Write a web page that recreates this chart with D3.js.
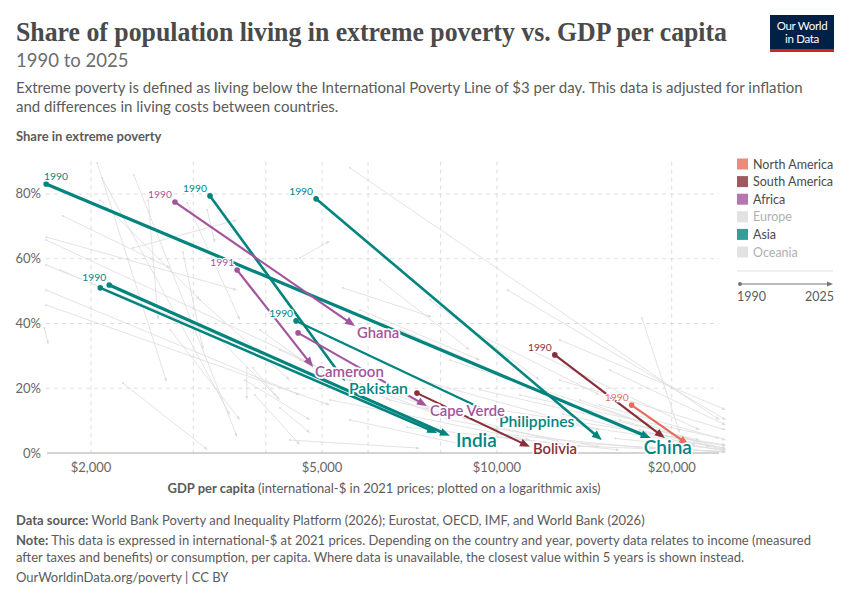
<!DOCTYPE html>
<html>
<head>
<meta charset="utf-8">
<script src="https://cdn.jsdelivr.net/npm/d3@7"></script>
<style>
  body { margin: 0; background: #fff; }
  svg { font-family: Lato, "Noto Sans", sans-serif; }
</style>
</head>
<body>
<svg id="chart" width="850" height="600"></svg>
<script>
// Highlighted countries, 1990 (or first year) -> 2025
const countries    = ['China', 'India', 'Bangladesh', 'Pakistan', 'Indonesia', 'Philippines', 'Ghana', 'Cameroon', 'Cape Verde', 'Bolivia', 'Brazil', 'Mexico'];
const continentOf  = ['Asia', 'Asia', 'Asia', 'Asia', 'Asia', 'Asia', 'Africa', 'Africa', 'Africa', 'South America', 'South America', 'North America'];
const startYear    = [1990, 1990, 1990, 1990, 1990, 1990, 1990, 1991, 1990, 1990, 1990, 1990];
const gdpStart     = [1674, 2150, 2075, 3206, 4882, 4510, 2790, 3570, 4546, 7283, 12580, 17060];
const povertyStart = [83.1, 51.9, 51.0, 79.4, 78.5, 40.8, 77.5, 56.5, 37.1, 18.5, 30.3, 14.8];
const gdpEnd       = [18400, 8300, 7890, 5475, 15160, 10040, 5697, 4825, 7578, 11400, 19460, 21400];
const povertyEnd   = [4.6, 5.3, 6.2, 22.2, 4.0, 11.4, 39.2, 26.6, 14.5, 1.9, 4.6, 2.5];

// All other countries: [gdp start, poverty start, gdp end, poverty end]
const otherCountries = [
  [2050, 89.6, 2700, 21.9], [2370, 85.9, 3570, 4.9], [2090, 84.9, 3470, 11.7], [2510, 78.1, 2610, 41.1],
  [1790, 73.2, 2740, 57.1], [1674, 66.7, 3570, 50.3], [1674, 65.8, 5370, 23.5], [1674, 58.1, 5100, 22.5],
  [1674, 50.3, 4580, 17.9], [1674, 45.7, 5160, 14.8], [1662, 38.6, 1690, 33.4], [2360, 63.3, 3570, 72.0],
  [2930, 77.2, 3610, 41.1], [3170, 75.1, 3270, 64.9], [2270, 21.6, 3180, 0.9], [2880, 62.0, 3120, 31.8],
  [3710, 26.3, 3710, 16.4], [3800, 26.3, 4180, 17.3], [4230, 13.9, 4770, 6.2], [3830, 17.9, 4580, 2.5],
  [3680, 22.5, 4770, 10.2], [5585, 88.0, 24200, 10.2], [5430, 51.0, 7730, 42.0], [4580, 60.3, 5160, 65.5],
  [10445, 50.3, 24800, 10.2], [17770, 41.7, 20650, 6.2], [5810, 44.2, 9350, 28.7], [6810, 38.0, 12835, 16.4],
  [4580, 28.7, 8300, 10.2], [5160, 16.4, 11400, 4.0], [5585, 10.2, 8980, 2.2], [4400, 4.0, 7370, 1.5],
  [7370, 22.5, 15040, 7.1], [8300, 28.7, 18340, 8.6], [9350, 19.5, 22360, 4.0], [10120, 13.3, 24800, 2.5],
  [10955, 17.9, 24200, 4.6], [11860, 10.2, 24800, 1.5], [12835, 22.5, 24800, 7.1], [13900, 16.4, 23260, 1.9],
  [15040, 14.8, 24800, 4.0], [16280, 10.2, 24800, 1.2], [17620, 7.1, 24800, 0.9], [19080, 5.6, 24800, 2.2],
  [8980, 38.0, 15040, 17.9], [11400, 31.8, 22360, 7.1], [12835, 34.9, 24800, 13.3], [15650, 25.6, 24800, 8.6],
  [7670, 47.3, 11860, 22.5], [6290, 53.4, 8980, 31.8], [3080, 47.3, 4400, 22.5], [2740, 38.0, 3610, 10.2],
  [3340, 34.9, 4230, 16.4], [3910, 38.0, 5160, 22.5], [4230, 31.8, 6540, 16.4], [4960, 33.4, 7670, 13.3],
  [5585, 22.5, 10120, 7.1], [6540, 16.4, 12835, 3.4], [8300, 10.2, 15040, 1.9], [9350, 5.6, 16280, 0.9],
  [2074, 78.1, 3080, 47.3], [1770, 56.5, 2335, 47.3], [14000, 3.0, 24800, 0.3], [12000, 2.5, 24800, 0.5],
  [18000, 2.0, 24800, 0.2], [10000, 6.0, 20000, 0.8], [20000, 3.5, 24800, 0.6], [16000, 4.5, 24800, 1.0],
  [7000, 8.0, 14000, 2.0], [13000, 12.0, 22000, 2.5]
];

// Axes
const yTicks = [0, 20, 40, 60, 80];
const xTicks = [2000, 5000, 10000, 20000];
const xGridTicks = [2000, 3000, 4000, 5000, 6000, 8000, 10000, 20000];

// Legend
const continents = ['North America', 'South America', 'Africa', 'Europe', 'Asia', 'Oceania'];
const timeRange = [1990, 2025];

// Colours
const continentColor = {
  'North America': '#e56e5a',
  'South America': '#883039',
  'Africa': '#a2559c',
  'Europe': '#4c6a9c',
  'Asia': '#00847e',
  'Oceania': '#b16214'
};
const inactiveColor = '#e2e2e2';
const otherColor = '#d9d9d9';

// Label layout per country (offset from end point, font size, line width, year label)
const layout = {
  'China':       { label: true,  dx: -7, dy: 16, size: 19,   width: 3.2, year: 'start' },
  'India':       { label: true,  dx: 6,  dy: 11, size: 19,   width: 3.2, year: 'end' },
  'Bangladesh':  { label: false, width: 2.6, year: null },
  'Pakistan':    { label: true,  dx: 4,  dy: 13, size: 15.8, width: 2.6, year: 'end' },
  'Indonesia':   { label: false, width: 2.6, year: 'end' },
  'Philippines': { label: true,  dx: 1,  dy: 11, size: 15.7, width: 2.2, year: 'end' },
  'Ghana':       { label: true,  dx: 2,  dy: 12, size: 14.8, width: 2.2, year: 'end' },
  'Cameroon':    { label: true,  dx: 2,  dy: 10, size: 15,   width: 2.2, year: 'end' },
  'Cape Verde':  { label: true,  dx: 3,  dy: 10, size: 14.8, width: 2.0, year: null },
  'Bolivia':     { label: true,  dx: 3,  dy: 7,  size: 14.8, width: 2.0, year: null },
  'Brazil':      { label: false, width: 2.2, year: 'end' },
  'Mexico':      { label: false, width: 2.2, year: 'end' }
};

const svg = d3.select('#chart');

// Scales
const plotLeft = 44, plotRight = 727, plotTop = 161.6, plotBottom = 453;
const x = d3.scaleLog().domain([1660, 24900]).range([plotLeft, plotRight]);
const y = d3.scaleLinear().domain([0, 90]).range([plotBottom, plotTop]);

// Header
svg.append('text')
  .attr('x', 16).attr('y', 41)
  .attr('textLength', 711).attr('lengthAdjust', 'spacingAndGlyphs')
  .style('font-family', '"Liberation Serif", "DejaVu Serif", serif')
  .style('font-size', '27px')
  .style('font-weight', 600)
  .attr('fill', '#4a4a4a')
  .text('Share of population living in extreme poverty vs. GDP per capita');

svg.append('text')
  .attr('x', 16).attr('y', 67)
  .style('font-size', '18.5px')
  .attr('fill', '#6d6d6d')
  .text('1990 to 2025');

const description = [
  'Extreme poverty is defined as living below the International Poverty Line of $3 per day. This data is adjusted for inflation',
  'and differences in living costs between countries.'
];
description.forEach((line, i) => {
  svg.append('text')
    .attr('x', 16).attr('y', 93 + i * 19)
    .style('font-size', '15px')
    .attr('fill', '#5b5b5b')
    .text(line);
});

// Logo
const logo = svg.append('g');
logo.append('rect').attr('x', 770).attr('y', 15).attr('width', 64).attr('height', 37).attr('fill', '#002147');
logo.append('rect').attr('x', 770).attr('y', 49).attr('width', 64).attr('height', 3).attr('fill', '#ce261e');
['Our World', 'in Data'].forEach((t, i) => {
  logo.append('text')
    .attr('x', 802).attr('y', 30 + i * 13)
    .attr('text-anchor', 'middle')
    .style('font-size', '11.5px')
    .style('letter-spacing', '-0.3px')
    .attr('fill', '#fff')
    .text(t);
});

// Y axis title
svg.append('text')
  .attr('x', 16).attr('y', 141)
  .style('font-size', '13px')
  .style('font-weight', 700)
  .attr('fill', '#5b5b5b')
  .text('Share in extreme poverty');

// Grid lines
const grid = svg.append('g');
grid.selectAll('.hgrid')
  .data(yTicks.filter(d => d > 0))
  .join('line')
  .attr('x1', plotLeft + 2).attr('x2', plotRight - 8)
  .attr('y1', d => y(d)).attr('y2', d => y(d))
  .attr('stroke', '#dddddd')
  .attr('stroke-dasharray', '4,4');

grid.selectAll('.vgrid')
  .data(xGridTicks)
  .join('line')
  .attr('x1', d => x(d)).attr('x2', d => x(d))
  .attr('y1', plotTop).attr('y2', plotBottom)
  .attr('stroke', '#dddddd')
  .attr('stroke-dasharray', '4,4');

// Y tick labels
svg.selectAll('.ytick')
  .data(yTicks)
  .join('text')
  .attr('x', 41)
  .attr('y', d => y(d) + 4.5)
  .attr('text-anchor', 'end')
  .style('font-size', '13px')
  .attr('fill', '#666')
  .text(d => d + '%');

// X tick labels
svg.selectAll('.xtick')
  .data(xTicks)
  .join('text')
  .attr('x', d => x(d))
  .attr('y', 472)
  .attr('text-anchor', 'middle')
  .style('font-size', '13px')
  .attr('fill', '#666')
  .text(d => '$' + d3.format(',')(d));

// X axis title
const xTitle = svg.append('text')
  .attr('x', 384).attr('y', 493)
  .attr('text-anchor', 'middle')
  .style('font-size', '13px')
  .attr('fill', '#5b5b5b');
xTitle.append('tspan').style('font-weight', 700).text('GDP per capita');
xTitle.append('tspan').text(' (international-$ in 2021 prices; plotted on a logarithmic axis)');

// Draw an arrow from (x0,y0) to (x1,y1) with a dot at the start
function drawArrow(g, x0, y0, x1, y1, color, width, headLen, headWidth, dotR) {
  const angle = Math.atan2(y1 - y0, x1 - x0);
  const bx = x1 - Math.cos(angle) * headLen * 0.8;
  const by = y1 - Math.sin(angle) * headLen * 0.8;
  g.append('line')
    .attr('x1', x0).attr('y1', y0)
    .attr('x2', bx).attr('y2', by)
    .attr('stroke', color)
    .attr('stroke-width', width);
  const px = -Math.sin(angle) * headWidth / 2;
  const py = Math.cos(angle) * headWidth / 2;
  const hx = x1 - Math.cos(angle) * headLen;
  const hy = y1 - Math.sin(angle) * headLen;
  g.append('path')
    .attr('d', `M${x1},${y1}L${hx + px},${hy + py}L${hx - px},${hy - py}Z`)
    .attr('fill', color);
  g.append('circle')
    .attr('cx', x0).attr('cy', y0).attr('r', dotR)
    .attr('fill', color);
}

// Axis line at 0%
svg.append('line')
  .attr('x1', plotLeft + 3).attr('x2', plotRight - 8)
  .attr('y1', y(0)).attr('y2', y(0))
  .attr('stroke', '#a8a8a8')
  .attr('stroke-width', 1.2);

// Background countries
const others = svg.append('g').attr('opacity', 0.9);
otherCountries.forEach(d => {
  drawArrow(others, x(d[0]), y(d[1]), x(d[2]), y(d[3]), otherColor, 0.8, 4, 3, 1);
});

// Highlighted countries
const highlight = svg.append('g');
countries.forEach((name, i) => {
  const color = continentColor[continentOf[i]];
  const l = layout[name];
  drawArrow(highlight, x(gdpStart[i]), y(povertyStart[i]), x(gdpEnd[i]), y(povertyEnd[i]),
    color, l.width, 10, 8, 2.8);
});

// Year labels at start points
const yearLabels = svg.append('g');
countries.forEach((name, i) => {
  const l = layout[name];
  if (!l.year) return;
  const sx = x(gdpStart[i]);
  const sy = y(povertyStart[i]);
  yearLabels.append('text')
    .attr('x', l.year === 'start' ? sx - 2 : sx - 3)
    .attr('y', sy - 4)
    .attr('text-anchor', l.year)
    .style('font-size', '10.3px')
    .attr('fill', continentColor[continentOf[i]])
    .attr('stroke', '#fff').attr('stroke-width', 2.5).attr('paint-order', 'stroke')
    .text(startYear[i]);
});

// Country labels at end points
const labels = svg.append('g');
countries.forEach((name, i) => {
  const l = layout[name];
  if (!l.label) return;
  labels.append('text')
    .attr('x', x(gdpEnd[i]) + l.dx)
    .attr('y', y(povertyEnd[i]) + l.dy)
    .style('font-size', l.size + 'px')
    .style('font-weight', 600)
    .attr('fill', continentColor[continentOf[i]])
    .attr('stroke', '#fff').attr('stroke-width', 3.5).attr('paint-order', 'stroke')
    .text(name);
});

// Legend
const activeContinents = new Set(continentOf);
const legend = svg.append('g');
continents.forEach((c, i) => {
  const active = activeContinents.has(c);
  const ly = 164 + i * 17.6;
  legend.append('rect')
    .attr('x', 737).attr('y', ly - 5.5)
    .attr('width', 11).attr('height', 11)
    .attr('fill', active ? continentColor[c] : inactiveColor)
    .attr('opacity', active ? 0.8 : 1);
  legend.append('text')
    .attr('x', 753).attr('y', ly + 4.5)
    .style('font-size', '12.5px')
    .attr('fill', active ? '#4a4a4a' : '#b0b0b0')
    .text(c);
});
legend.append('line')
  .attr('x1', 737).attr('x2', 833)
  .attr('y1', 271).attr('y2', 271)
  .attr('stroke', '#e0e0e0');
drawArrow(legend, 740, 284, 833, 284, '#777', 1, 6, 5, 2);
legend.append('text')
  .attr('x', 737).attr('y', 301)
  .style('font-size', '12.5px')
  .attr('fill', '#5b5b5b')
  .text(timeRange[0]);
legend.append('text')
  .attr('x', 834).attr('y', 301)
  .attr('text-anchor', 'end')
  .style('font-size', '12.5px')
  .attr('fill', '#5b5b5b')
  .text(timeRange[1]);

// Footer
const footer = [
  [['Data source:', true], [' World Bank Poverty and Inequality Platform (2026); Eurostat, OECD, IMF, and World Bank (2026)', false]],
  [['Note:', true], [' This data is expressed in international-$ at 2021 prices. Depending on the country and year, poverty data relates to income (measured', false]],
  [['after taxes and benefits) or consumption, per capita. Where data is unavailable, the closest value within 5 years is shown instead.', false]],
  [['OurWorldinData.org/poverty | CC BY', false]]
];
const footerY = [525, 545, 562, 582];
footer.forEach((parts, i) => {
  const t = svg.append('text')
    .attr('x', 16).attr('y', footerY[i])
    .style('font-size', '13px')
    .attr('fill', '#5b5b5b');
  parts.forEach(p => {
    t.append('tspan').style('font-weight', p[1] ? 700 : 400).text(p[0]);
  });
});
</script>
</body>
</html>
